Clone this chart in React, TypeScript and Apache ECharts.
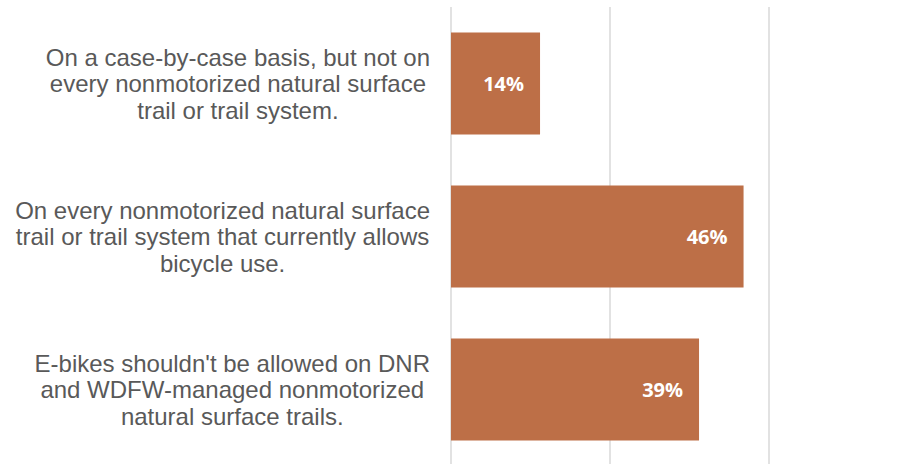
import React, { useEffect, useRef } from "react";
import * as echarts from "echarts";

const categories: string[] = [
  "On a case-by-case basis, but not on\nevery nonmotorized natural surface\ntrail or trail system.",
  "On every nonmotorized natural surface\ntrail or trail system that currently allows\nbicycle use.",
  "E-bikes shouldn't be allowed on DNR\nand WDFW-managed nonmotorized\nnatural surface trails.",
];
const values: number[] = [14, 46, 39];
const axisMax = 75;
const axisInterval = 25;

export default function App() {
  const ref = useRef<HTMLDivElement>(null);
  useEffect(() => {
    if (!ref.current) return;
    const chart = echarts.init(ref.current, undefined, { renderer: "svg" });
    chart.setOption({
      animation: false,
      backgroundColor: "#ffffff",
      grid: {
        left: 451,
        top: 7,
        width: 477,
        height: 459,
        containLabel: false,
        outerBoundsMode: "none",
      },
      xAxis: {
        type: "value",
        min: 0,
        max: axisMax,
        interval: axisInterval,
        axisLabel: { show: false },
        axisLine: { show: false },
        axisTick: { show: false },
        splitLine: { show: true, lineStyle: { color: "#d9d9d9", width: 1.5 } },
      },
      yAxis: {
        type: "category",
        inverse: true,
        data: categories,
        axisLine: { show: false },
        axisTick: { show: false },
        axisLabel: {
          align: "right",
          margin: 21,
          formatter: (v: string) =>
            v.split("\n").map((l) => `{c|${l}}`).join("\n"),
          rich: {
            c: {
              align: "center",
              fontFamily: "Liberation Sans, Arial, sans-serif",
              fontSize: 24,
              lineHeight: 26.5,
              color: "#595959",
            },
          },
        },
      },
      series: [
        {
          type: "bar",
          data: values,
          barWidth: 102,
          itemStyle: { color: "#BD6F47" },
          label: {
            show: true,
            position: "insideRight",
            distance: 16,
            formatter: (p: any) => `${p.value}%`,
            color: "#ffffff",
            fontFamily: "Open Sans, sans-serif",
            fontWeight: "bold",
            fontSize: 20,
          },
        },
      ],
    });
    return () => chart.dispose();
  }, []);
  return (
    <div
      ref={ref}
      style={{ position: "fixed", left: 0, top: 0, width: 913, height: 464 }}
    />
  );
}
